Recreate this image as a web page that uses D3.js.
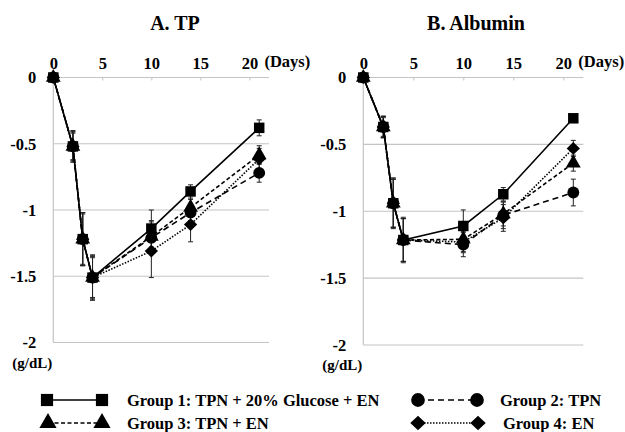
<!DOCTYPE html>
<html><head><meta charset="utf-8">
<script src="https://cdn.jsdelivr.net/npm/d3@7"></script>
<style>body{margin:0;background:#fff}svg{display:block}text{font-family:"Liberation Serif","Times New Roman",serif;font-weight:bold;fill:#000}</style>
</head><body><svg id="c" width="625" height="432"></svg>
<script>
const days = [0, 2, 3, 4, 10, 14, 21];
const xTicks = [0, 5, 10, 15, 20];
const yTicks = [0, -0.5, -1, -1.5, -2];
const yTickLabels = ["0", "-0.5", "-1", "-1.5", "-2"];
const groupNames = ["Group 1: TPN + 20% Glucose + EN", "Group 2: TPN", "Group 3: TPN + EN", "Group 4: EN"];

// Panel A: TP
const tpG1 = [0, -0.52, -1.22, -1.51, -1.14, -0.86, -0.38];
const tpG2 = [0, -0.52, -1.22, -1.51, -1.21, -1.02, -0.72];
const tpG3 = [0, -0.52, -1.22, -1.51, -1.20, -0.98, -0.585];
const tpG4 = [0, -0.52, -1.22, -1.51, -1.31, -1.11, -0.615];
const tpE1 = [0, 0.11, 0.20, 0.17, 0.14, 0.05, 0.06];
const tpE2 = [0, 0.10, 0.19, 0.15, 0.12, 0.10, 0.07];
const tpE3 = [0, 0.11, 0.20, 0.16, 0.12, 0.10, 0.07];
const tpE4 = [0, 0.12, 0.20, 0.17, 0.20, 0.13, 0.08];

// Panel B: Albumin
const alG1 = [0, -0.37, -0.94, -1.215, -1.11, -0.873, -0.305];
const alG2 = [0, -0.37, -0.94, -1.215, -1.25, -1.03, -0.86];
const alG3 = [0, -0.37, -0.94, -1.215, -1.21, -1.02, -0.64];
const alG4 = [0, -0.37, -0.94, -1.215, -1.23, -1.05, -0.53];
const alE1 = [0, 0.08, 0.18, 0.17, 0.12, 0.05, 0.03];
const alE2 = [0, 0.08, 0.19, 0.16, 0.09, 0.10, 0.10];
const alE3 = [0, 0.07, 0.18, 0.16, 0.09, 0.09, 0.06];
const alE4 = [0, 0.08, 0.18, 0.16, 0.08, 0.10, 0.06];

// wide diamond (rotated square)
const wideDiamond = {
  draw(ctx, size) {
    const r = Math.sqrt(size / 2);
    ctx.moveTo(0, -r); ctx.lineTo(r * 1.05, 0); ctx.lineTo(0, r); ctx.lineTo(-r * 1.05, 0); ctx.closePath();
  }
};

const styles = [
  {sym: d3.symbolSquare, size: 110, dash: null},
  {sym: d3.symbolCircle, size: 110, dash: "6,4"},
  {sym: d3.symbolTriangle, size: 95, dash: "4,2.5"},
  {sym: wideDiamond, size: 80, dash: "1.5,1.5"}
];

const svg = d3.select("#c");

function panel(title, series, errs, xr, yr, titleX) {
  const x = d3.scaleLinear().domain([0, 22]).range(xr);
  const y = d3.scaleLinear().domain([0, -2]).range(yr);
  const g = svg.append("g");
  g.append("text").attr("x", titleX).attr("y", 30).attr("text-anchor", "middle")
    .style("font-size", "20px").text(title);
  // gridlines
  g.selectAll(".grid").data(yTicks).join("line")
    .attr("x1", x(0)).attr("x2", xr[1]).attr("y1", d => y(d)).attr("y2", d => y(d))
    .attr("stroke", "#c4c4c4").attr("stroke-width", 1.2);
  g.append("line").attr("x1", x(0)).attr("x2", x(0)).attr("y1", y(0)).attr("y2", y(-2))
    .attr("stroke", "#c4c4c4").attr("stroke-width", 1.2);
  // top axis
  const ax = g.append("g").attr("transform", `translate(0,${y(0)})`)
    .call(d3.axisTop(x).tickValues(xTicks).tickSize(-3).tickPadding(9).tickFormat(d3.format("d")));
  ax.select(".domain").remove();
  ax.selectAll(".tick line").attr("stroke", "#c4c4c4");
  ax.selectAll(".tick text").style("font-size", "16.5px").style("font-family", '"Liberation Serif",serif');
  g.append("text").attr("x", x(20) + 15).attr("y", y(0) - 11).style("font-size", "16.5px").text("(Days)");
  // left axis labels
  const ay = g.append("g").attr("transform", `translate(${x(0)},0)`)
    .call(d3.axisLeft(y).tickValues(yTicks).tickSize(0).tickPadding(17).tickFormat((d, i) => yTickLabels[i]));
  ay.select(".domain").remove();
  ay.selectAll(".tick text").style("font-size", "16.5px").style("font-family", '"Liberation Serif",serif');
  g.append("text").attr("x", x(0) - 41).attr("y", y(-2) + 25).style("font-size", "15px").text("(g/dL)");

  const line = d3.line().x((d, i) => x(days[i])).y(d => y(d));
  const order = [1, 2, 3, 0];
  // error bars
  order.forEach(k => {
    const eg = g.append("g");
    series[k].forEach((v, i) => {
      const e = errs[k][i];
      if (!e) return;
      const cx = x(days[i]);
      eg.append("line").attr("x1", cx).attr("x2", cx).attr("y1", y(v + e)).attr("y2", y(v - e)).attr("stroke", "#222").attr("stroke-width", 1);
      [v + e, v - e].forEach(w => eg.append("line").attr("x1", cx - 2.5).attr("x2", cx + 2.5).attr("y1", y(w)).attr("y2", y(w)).attr("stroke", "#222").attr("stroke-width", 1));
    });
  });
  order.forEach(k => {
    g.append("path").attr("d", line(series[k])).attr("fill", "none").attr("stroke", "#000")
      .attr("stroke-width", 1.6).attr("stroke-dasharray", styles[k].dash);
  });
  order.forEach(k => {
    g.selectAll(null).data(series[k]).join("path")
      .attr("transform", (d, i) => `translate(${x(days[i])},${y(d)})`)
      .attr("d", d3.symbol().type(styles[k].sym).size(styles[k].size)).attr("fill", "#000");
  });
}

panel("A. TP", [tpG1, tpG2, tpG3, tpG4], [tpE1, tpE2, tpE3, tpE4], [53.3, 269], [77.5, 342.5], 175);
panel("B. Albumin", [alG1, alG2, alG3, alG4], [alE1, alE2, alE3, alE4], [363.3, 583.3], [77.5, 345], 476);

// legend
const legendPos = [
  {x1: 47, x2: 102, y: 400, tx: 127},
  {x1: 418, x2: 477, y: 400, tx: 500},
  {x1: 48, x2: 102, y: 423, tx: 127},
  {x1: 418, x2: 478, y: 423, tx: 503}
];
const lg = svg.append("g");
legendPos.forEach((p, k) => {
  lg.append("line").attr("x1", p.x1).attr("x2", p.x2).attr("y1", p.y).attr("y2", p.y)
    .attr("stroke", "#000").attr("stroke-width", 1.6).attr("stroke-dasharray", styles[k].dash);
  [p.x1, p.x2].forEach(cx => lg.append("path").attr("transform", `translate(${cx},${p.y})`)
    .attr("d", d3.symbol().type(styles[k].sym).size(styles[k].size * 1.35)).attr("fill", "#000"));
  lg.append("text").attr("x", p.tx).attr("y", p.y + 6).style("font-size", "16.5px").text(groupNames[k]);
});
</script></body></html>
